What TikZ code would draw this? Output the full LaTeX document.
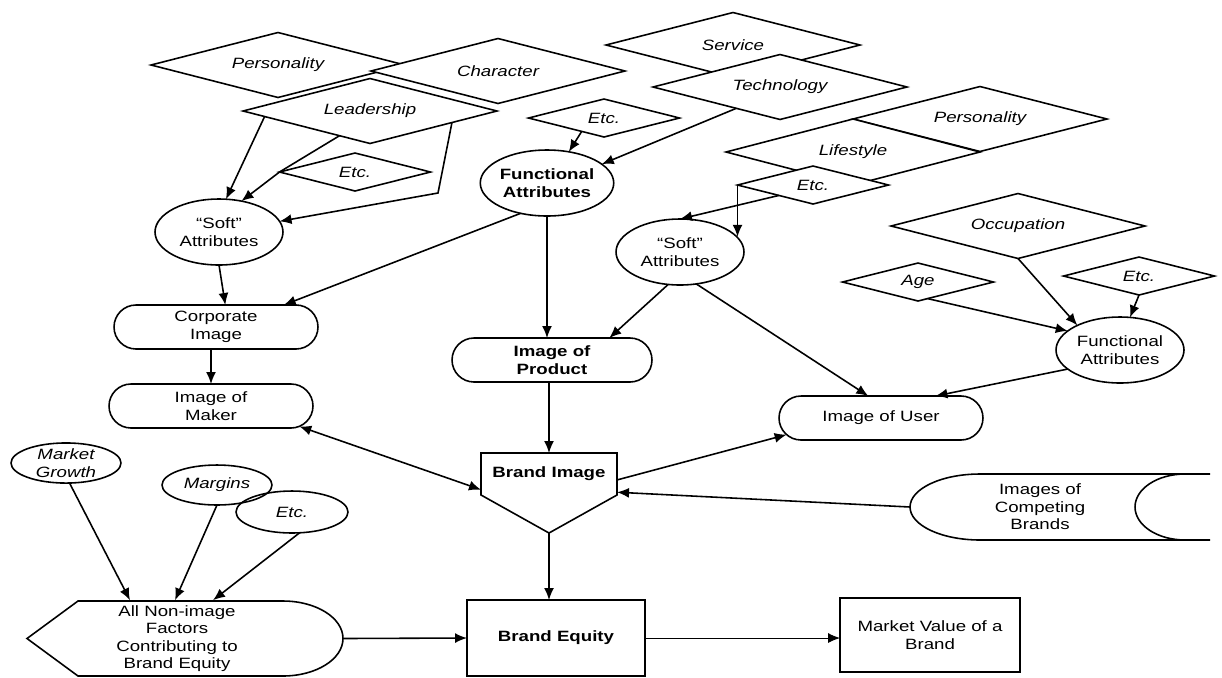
\documentclass[tikz,border=0pt]{standalone}
\usepackage{fontspec}
\setmainfont{Liberation Sans}[FakeStretch=1.25]
\usetikzlibrary{shapes.geometric,shapes.misc,arrows.meta,calc}

\begin{document}
\fontsize{8.5}{9.9}\selectfont
\begin{tikzpicture}[x=0.02cm, y=-0.02cm, line width=0.9pt,
    dia/.style={draw, diamond, aspect=4, fill=white, minimum width=5.08cm, minimum height=1.3cm,
                inner sep=0pt, outer sep=0pt, font=\itshape},
    sdia/.style={dia, minimum width=3.02cm, minimum height=0.76cm},
    attr/.style={draw, ellipse, minimum width=2.56cm, minimum height=1.32cm,
                 inner sep=0pt, outer sep=0pt, align=center},
    factor/.style={attr, minimum width=2.2cm, minimum height=0.8cm, font=\itshape},
    img/.style={draw, rounded rectangle, minimum width=4.08cm, minimum height=0.88cm,
                inner sep=0pt, outer sep=0pt, align=center},
    box/.style={draw, rectangle, inner sep=0pt, outer sep=0pt, align=center},
    arrow/.style={-{Latex[length=2.4mm, width=2mm]}},
    both/.style={{Latex[length=2.4mm, width=2mm]}-{Latex[length=2.4mm, width=2mm]}}
  ]
  \useasboundingbox (0,0) rectangle (1222,677);
  % Maker traits
  \node[dia] (pers1) at (278,65) {Personality};
  \node[dia] (charac) at (498,71) {Character};
  \node[dia] (lead) at (370,111) {Leadership};
  \node[sdia] (etc1) at (355,172) {Etc.};
  % Product traits
  \node[sdia] (etc2) at (604,118) {Etc.};
  \node[dia] (serv) at (733,45) {Service};
  \node[dia] (tech) at (780,87) {Technology};
  % User traits
  \node[dia] (pers2) at (980,119) {Personality};
  \node[dia, minimum height=1.32cm] (life) at (853,152) {Lifestyle};
  \node[sdia] (etc3) at (813,185) {Etc.};
  \node[dia] (occ) at (1018,226) {Occupation};
  \node[sdia] (age) at (918,282) {Age};
  \node[sdia] (etc4) at (1139,276) {Etc.};
  % Attributes
  \node[attr] (soft1) at (219,232) {“Soft”\\Attributes};
  \node[attr, font=\bfseries] (func1) at (547,183) {Functional\\Attributes};
  \node[attr] (soft2) at (680,252) {“Soft”\\Attributes};
  \node[attr] (func2) at (1120,350) {Functional\\Attributes};
  % Images
  \node[img] (corp) at (216,327) {Corporate\\Image};
  \node[img] (maker) at (211,406) {Image of\\Maker};
  \node[img, font=\bfseries, minimum width=4cm] (prod) at (552,360) {Image of\\Product};
  \node[img] (user) at (881,418) {Image of User};
  % Brand image
  \node[box, draw=none, font=\bfseries, minimum width=2.72cm, minimum height=0.84cm] (brand) at (549,474) {Brand Image};
  \coordinate (tip) at (549,533);
  \draw (brand.north west) -- (brand.north east) -- (brand.south east) -- (tip) -- (brand.south west) -- cycle;
  % Competing brands
  \node[align=center] (rivals) at (1040,507) {Images of\\Competing\\Brands};
  \draw (1210,474) -- (980,474) arc[start angle=90, end angle=270, x radius=1.4cm, y radius=0.66cm] -- (1210,540);
  \draw (1185,474) arc[start angle=90, end angle=270, x radius=1cm, y radius=0.66cm];
  \coordinate (rivalsL) at (910,507);
  % Non-image factors
  \node[factor] (growth) at (66,463) {Market\\Growth};
  \node[factor] (margins) at (217,485) {Margins};
  \node[factor, minimum width=2.24cm, minimum height=0.84cm] (etc5) at (292,512) {Etc.};
  \node[align=center, minimum height=1.5cm, inner sep=0pt] (nonimg) at (177,638.5) {All Non-image\\Factors\\Contributing to\\Brand Equity};
  \draw (27,638.5) -- (78,601) -- (283,601) arc[start angle=90, end angle=-90, x radius=1.2cm, y radius=0.75cm] -- (78,676) -- cycle;
  \coordinate (nonimgR) at (343,638.5);
  % Equity and value
  \node[box, font=\bfseries, minimum width=3.56cm, minimum height=1.52cm] (equity) at (556,638) {Brand Equity};
  \node[box, minimum width=3.6cm, minimum height=1.48cm] (value) at (930,635) {Market Value of a\\Brand};
  % Arrows
  \draw[arrow] (lead.183) -- (soft1.78);
  \draw[arrow] (lead.219) -- (etc1.west) -- (soft1.54);
  \draw[arrow] (lead.-8) -- (438,193) -- (soft1.10);
  \draw[arrow] (etc2.211) -- (func1.55);
  \draw[arrow] (tech.206) -- (func1.19);
  \draw[arrow] (func1.229) -- (corp.18);
  \draw[arrow] (func1.south) -- (func1.south |- prod.north);
  \draw[arrow] (soft1.south) -- (corp.67);
  \draw[arrow] (maker.north |- corp.south) -- (maker.north);
  \draw[arrow] (etc3.west) -- (etc3.west |- soft2.15);
  \draw[arrow] (etc3.197) -- (soft2.north);
  \draw[arrow] (soft2.250) -- (prod.21);
  \draw[arrow] (soft2.-63) -- (user.120);
  \draw[arrow] (occ.south) -- (func2.150);
  \draw[arrow] (age.-60) -- (func2.160);
  \draw[arrow] (etc4.south) -- (func2.73);
  \draw[arrow] (func2.200) -- (user.22);
  \draw[arrow] (brand.north |- prod.south) -- (brand.north);
  \draw[both] (maker.-13) -- (brand.193);
  \draw[arrow] (brand.-5) -- (user.190);
  \draw[arrow] (rivalsL) -- (brand.-15);
  \draw[arrow] (tip) -- (tip |- equity.north);
  \draw[arrow] (growth.-80) -- ($(nonimg.north)+(-47,0)$);
  \draw[arrow] (margins.south) -- ($(nonimg.north)+(-2,0)$);
  \draw[arrow] (etc5.-70) -- ($(nonimg.north)+(36,0)$);
  \draw[arrow] (nonimgR) -- (equity.west);
  \draw[arrow, line width=0.5pt] (equity.east) -- (equity.east -| value.west);
\end{tikzpicture}
\end{document}
